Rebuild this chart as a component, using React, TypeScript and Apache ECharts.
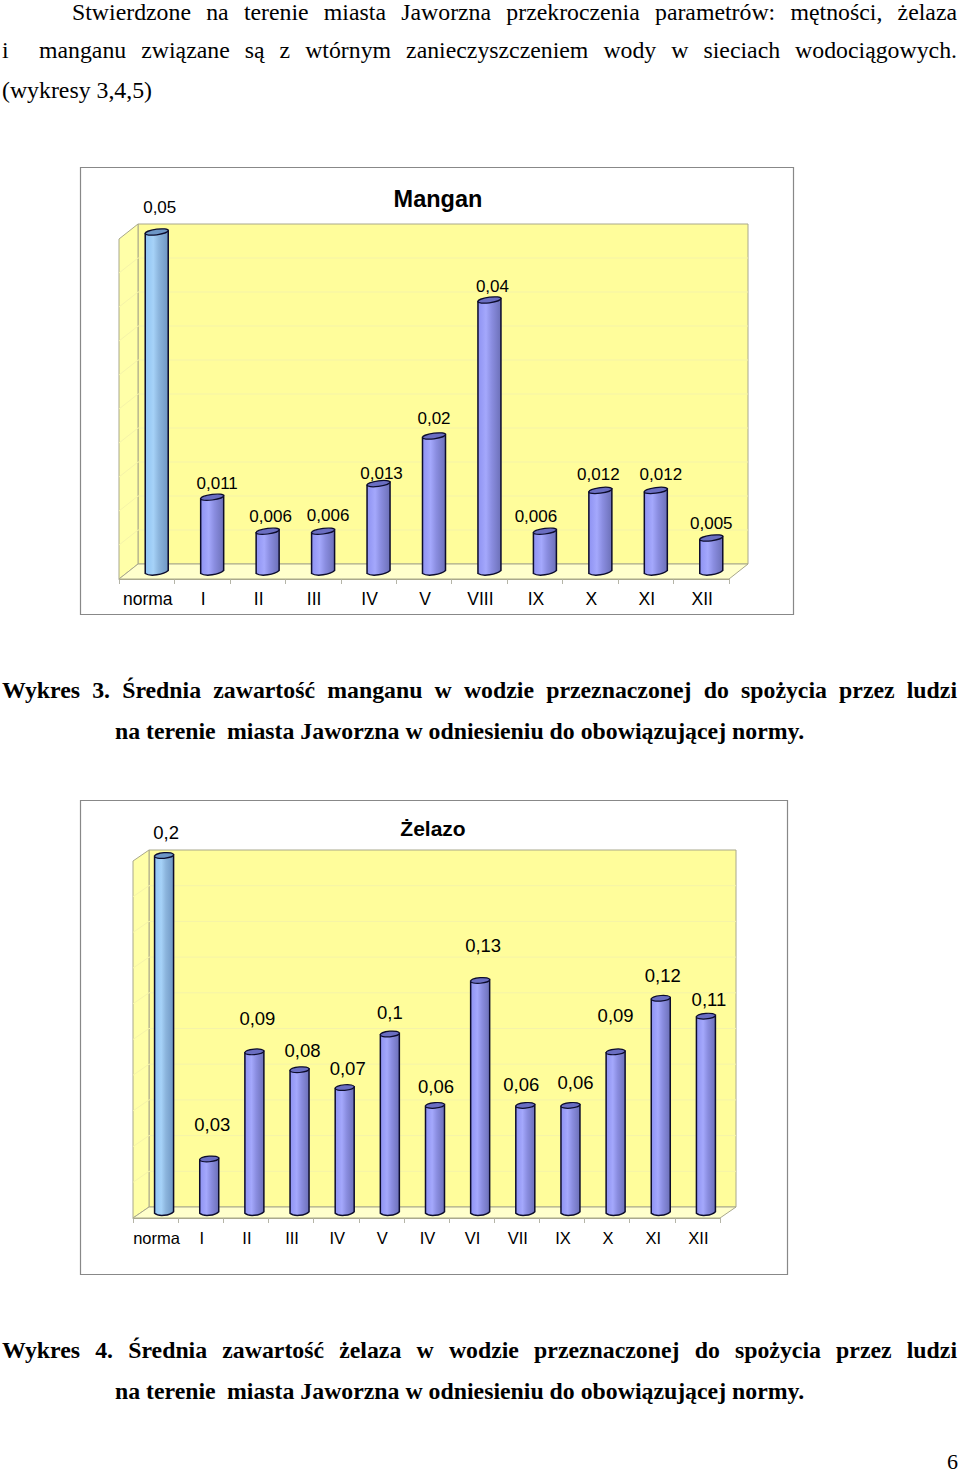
import React, { useEffect, useRef } from "react";
import * as echarts from "echarts";

// ---- data ----
const manganCategories = ["norma", "I", "II", "III", "IV", "V", "VIII", "IX", "X", "XI", "XII"];
const manganValues = [0.05, 0.011, 0.006, 0.006, 0.013, 0.02, 0.04, 0.006, 0.012, 0.012, 0.005];
const zelazoCategories = ["norma", "I", "II", "III", "IV", "V", "IV", "VI", "VII", "IX", "X", "XI", "XII"];
const zelazoValues = [0.2, 0.03, 0.09, 0.08, 0.07, 0.1, 0.06, 0.13, 0.06, 0.06, 0.09, 0.12, 0.11];
const manganTicks = [0, 0.005, 0.01, 0.015, 0.02, 0.025, 0.03, 0.035, 0.04, 0.045, 0.05];
const zelazoTicks = [0, 0.02, 0.04, 0.06, 0.08, 0.1, 0.12, 0.14, 0.16, 0.18, 0.2];

const paragraph1 = "Stwierdzone na terenie miasta Jaworzna przekroczenia parametrów: mętności, żelaza";
const paragraph2a = "i";
const paragraph2b = "manganu związane są z wtórnym zanieczyszczeniem wody w sieciach wodociągowych.";
const paragraph3 = "(wykresy 3,4,5)";
const caption3a = "Wykres 3. Średnia zawartość manganu w wodzie przeznaczonej do spożycia przez ludzi";
const caption4a = "Wykres 4. Średnia zawartość żelaza w wodzie przeznaczonej do spożycia przez ludzi";
const captionB1 = "na terenie";
const captionB2 = "miasta Jaworzna w odniesieniu do obowiązującej normy.";

// ---- layout of the labels, relative to each bar's top ----
const manganLabelOffsets = [[3, -24.5], [5, -13.5], [3, -15], [5, -16], [3, -10.5], [0, -17.5], [3, -13.5], [-9, -15], [-2, -16], [5, -16], [0, -14.5]];
const zelazoLabelOffsets = [[2, -23], [3, -34.5], [3, -33], [3, -19], [3, -19], [0, -21.5], [1, -19], [3, -35], [-4, -20.5], [5, -22.5], [0, -36], [2, -22.5], [3, -17]];

const SANS = '"Liberation Sans", Arial, sans-serif';
const SERIF = '"Liberation Serif", "Times New Roman", serif';

function pt(s: any, dx: number, dy: number, cy: number) {
  // apply the slight tilt of the cylinder's ellipses
  return [s.cx + dx, cy + dy - (dx / s.rx) * s.tilt];
}

echarts.graphic.registerShape(
  "cylBody",
  echarts.graphic.extendShape({
    shape: { cx: 0, top: 0, bottom: 0, rx: 10, ry: 3, tilt: 1 },
    buildPath(ctx: any, s: any) {
      const a = pt(s, -s.rx, 0, s.top);
      const b = pt(s, -s.rx, 0, s.bottom);
      const c1 = pt(s, -s.rx * 0.6, s.ry * 1.35, s.bottom);
      const c2 = pt(s, s.rx * 0.6, s.ry * 1.35, s.bottom);
      const d = pt(s, s.rx, 0, s.bottom);
      const e = pt(s, s.rx, 0, s.top);
      ctx.moveTo(a[0], a[1]);
      ctx.lineTo(b[0], b[1]);
      ctx.bezierCurveTo(c1[0], c1[1], c2[0], c2[1], d[0], d[1]);
      ctx.lineTo(e[0], e[1]);
      ctx.closePath();
    },
  }) as any
);

echarts.graphic.registerShape(
  "cylTop",
  echarts.graphic.extendShape({
    shape: { cx: 0, top: 0, rx: 10, ry: 3, tilt: 1 },
    buildPath(ctx: any, s: any) {
      const k = 0.5523;
      const y = s.top;
      const p = (dx: number, dy: number) => pt(s, dx, dy, y);
      const P = [p(-s.rx, 0), p(-s.rx, -s.ry * k), p(-s.rx * k, -s.ry), p(0, -s.ry), p(s.rx * k, -s.ry), p(s.rx, -s.ry * k), p(s.rx, 0), p(s.rx, s.ry * k), p(s.rx * k, s.ry), p(0, s.ry), p(-s.rx * k, s.ry), p(-s.rx, s.ry * k)];
      ctx.moveTo(P[0][0], P[0][1]);
      for (let i = 1; i < 12; i += 3) {
        const e = P[(i + 2) % 12];
        ctx.bezierCurveTo(P[i][0], P[i][1], P[i + 1][0], P[i + 1][1], e[0], e[1]);
      }
      ctx.closePath();
    },
  }) as any
);

function bodyGradient(first: boolean) {
  const c = first
    ? ["#8fc4f4", "#a6d2f8", "#8bb4dc", "#6f97c4"]
    : ["#8e92f2", "#a4a8fc", "#8a8de0", "#6c70b8"];
  return new echarts.graphic.LinearGradient(0, 0, 1, 0, [
    { offset: 0, color: c[0] },
    { offset: 0.35, color: c[1] },
    { offset: 0.6, color: c[2] },
    { offset: 1, color: c[3] },
  ]);
}

function wallSeries(gridIndex: number, ticks: number[], dx: number, dy: number) {
  return {
    type: "custom",
    xAxisIndex: gridIndex,
    yAxisIndex: gridIndex,
    silent: true,
    z: 1,
    encode: { x: 0, y: 1 },
    data: ticks.map((t) => [0, t]),
    renderItem(params: any, api: any) {
      const g = params.coordSys;
      const x0 = g.x;
      const x1 = g.x + g.width;
      const y = api.coord([0, api.value(1)])[1];
      const line = "#f5f3a8";
      const edge = "#a9a88c";
      const children: any[] = [];
      const yb = g.y + g.height;
      const yt = g.y;
      if (params.dataIndex === 0) {
        children.push(
          { type: "polygon", shape: { points: [[x0 + dx, yt + dy], [x1 + dx, yt + dy], [x1 + dx, yb + dy], [x0 + dx, yb + dy]] }, style: { fill: "#fffd9b", stroke: edge, lineWidth: 1 } },
          { type: "polygon", shape: { points: [[x0, yt], [x0 + dx, yt + dy], [x0 + dx, yb + dy], [x0, yb]] }, style: { fill: "#ffffa8", stroke: edge, lineWidth: 1 } },
          { type: "polygon", shape: { points: [[x0, yb], [x0 + dx, yb + dy], [x1 + dx, yb + dy], [x1, yb]] }, style: { fill: "#ffffcc", stroke: edge, lineWidth: 1 } }
        );
      } else if (params.dataIndex < ticks.length - 1) {
        children.push({
          type: "polyline",
          shape: { points: [[x0, y], [x0 + dx, y + dy], [x1 + dx, y + dy]] },
          style: { fill: "none", stroke: line, lineWidth: 1 },
        });
      }
      return { type: "group", children };
    },
  };
}

function barSeries(
  gridIndex: number,
  values: number[],
  offsets: number[][],
  dx: number,
  dy: number,
  rx: number,
  ry: number,
  tilt: number,
  labelFont: string
) {
  return {
    type: "custom",
    xAxisIndex: gridIndex,
    yAxisIndex: gridIndex,
    silent: true,
    z: 5,
    encode: { x: 0, y: 1 },
    data: values.map((v, i) => [i, v]),
    renderItem(params: any, api: any) {
      const i = params.dataIndex;
      const v = api.value(1);
      const top = api.coord([i, v]);
      const base = api.coord([i, 0]);
      const cx = top[0] + dx;
      const yTop = top[1] + dy;
      const yBase = base[1] + dy;
      const first = i === 0;
      const stroke = "#0c0c2c";
      return {
        type: "group",
        children: [
          {
            type: "cylBody",
            shape: { cx, top: yTop, bottom: yBase, rx, ry, tilt },
            style: { fill: bodyGradient(first), stroke, lineWidth: 1.5 },
          },
          {
            type: "cylTop",
            shape: { cx, top: yTop, rx, ry, tilt },
            style: { fill: first ? "#6d96c6" : "#6a6ec2", stroke, lineWidth: 1.2 },
          },
          {
            type: "text",
            x: cx + offsets[i][0],
            y: yTop + offsets[i][1],
            style: {
              text: String(v).replace(".", ","),
              font: labelFont,
              fill: "#000",
              align: "center",
              verticalAlign: "middle",
            },
          },
        ],
      };
    },
  };
}

function measure(text: string, font: string) {
  const ctx = document.createElement("canvas").getContext("2d") as CanvasRenderingContext2D;
  ctx.font = font;
  return ctx.measureText(text).width;
}

function textItem(text: string, x: number, y: number, font: string) {
  return { type: "text", x, y, silent: true, style: { text, font, fill: "#000", verticalAlign: "middle" } };
}

function justified(line: string, x0: number, x1: number, y: number, font: string) {
  const words = line.split(" ");
  const widths = words.map((w) => measure(w, font));
  const total = widths.reduce((a, b) => a + b, 0);
  const gap = (x1 - x0 - total) / (words.length - 1);
  let x = x0;
  return words.map((w, i) => {
    const item = textItem(w, x, y, font);
    x += widths[i] + gap;
    return item;
  });
}

export default function App() {
  const ref = useRef<HTMLDivElement>(null);
  useEffect(() => {
    const chart = echarts.init(ref.current as HTMLDivElement, null, { renderer: "svg" });
    const body = `23.8px ${SERIF}`;
    const bold = `bold 23.8px ${SERIF}`;
    const axis = (gridIndex: number, data: string[], size: number, margin: number) => ({
      type: "category",
      gridIndex,
      data,
      boundaryGap: true,
      axisLine: { show: true, lineStyle: { color: "#a9a88c", width: 1 } },
      axisTick: { show: true, interval: 0, length: 5, lineStyle: { color: "#b5b5a8" } },
      axisLabel: { interval: 0, color: "#000", fontFamily: SANS, fontSize: size, margin, hideOverlap: false, padding: [0, 0, 0, 2] },
      splitLine: { show: false },
    });
    const val = (gridIndex: number, max: number, interval: number) => ({
      type: "value",
      gridIndex,
      min: 0,
      max,
      interval,
      show: false,
      splitLine: { show: false },
    });
    chart.setOption({
      animation: false,
      backgroundColor: "#fff",
      title: [
        { text: "Mangan", left: 433, top: 182, textAlign: "center", textStyle: { fontFamily: SANS, fontSize: 23.5, fontWeight: "bold", color: "#000" } },
        { text: "Żelazo", left: 428, top: 813, textAlign: "center", textStyle: { fontFamily: SANS, fontSize: 21, fontWeight: "bold", color: "#000" } },
      ],
      grid: [
        { left: 119, top: 239, width: 610, height: 340 },
        { left: 133, top: 861, width: 587, height: 357 },
      ],
      xAxis: [axis(0, manganCategories, 17.5, 11), axis(1, zelazoCategories, 16.5, 11)],
      yAxis: [val(0, 0.05, 0.005), val(1, 0.2, 0.02)],
      series: [
        wallSeries(0, manganTicks, 19, -15),
        barSeries(0, manganValues, manganLabelOffsets, 10, -7, 11.5, 2.8, 1.5, `17px ${SANS}`),
        wallSeries(1, zelazoTicks, 16, -11),
        barSeries(1, zelazoValues, zelazoLabelOffsets, 8.5, -5.5, 9.5, 2.8, 0.8, `18.5px ${SANS}`),
      ],
      graphic: [
        { type: "rect", silent: true, shape: { x: 80.5, y: 167.5, width: 713, height: 447 }, style: { fill: "none", stroke: "#888", lineWidth: 1.2 } },
        { type: "rect", silent: true, shape: { x: 80.5, y: 800.5, width: 707, height: 474 }, style: { fill: "none", stroke: "#888", lineWidth: 1.2 } },
        ...justified(paragraph1, 72, 957, 12, body),
        textItem(paragraph2a, 2, 50, body),
        ...justified(paragraph2b, 39, 957, 50, body),
        textItem(paragraph3, 2, 90, body),
        ...justified(caption3a, 2, 957, 690, bold),
        textItem(captionB1, 115, 731, bold),
        textItem(captionB2, 227, 731, bold),
        ...justified(caption4a, 2, 957, 1350, bold),
        textItem(captionB1, 115, 1391, bold),
        textItem(captionB2, 227, 1391, bold),
        textItem("6", 947, 1461, `22px ${SERIF}`),
      ],
    });
    return () => chart.dispose();
  }, []);
  return <div ref={ref} style={{ position: "absolute", left: 0, top: 0, width: 960, height: 1474 }} />;
}
